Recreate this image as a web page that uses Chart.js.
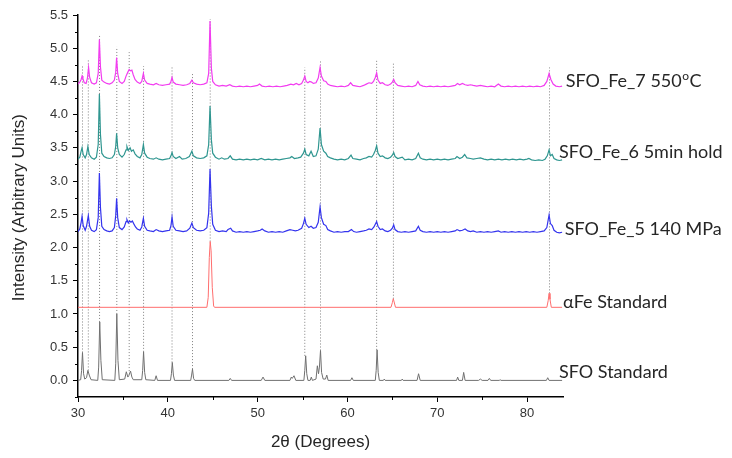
<!DOCTYPE html>
<html>
<head>
<meta charset="utf-8">
<script src="https://cdn.jsdelivr.net/npm/chart.js@4.4.1/dist/chart.umd.min.js"></script>
<style>
  html, body { margin: 0; padding: 0; background: #fff; }
  #wrap { width: 732px; height: 458px; }
</style>
</head>
<body>
<div id="wrap"><canvas id="c" width="732" height="458"></canvas></div>
<script>
// XRD patterns, [2θ, intensity] with each trace offset vertically.
const sfoFe7 = [
[30.0,4.46],[30.2,4.49],[30.35,4.53],[30.45,4.58],[30.55,4.54],[30.7,4.48],[30.9,4.47],[31.05,4.55],[31.18,4.71],[31.3,4.56],[31.5,4.48],[31.8,4.46],[32.05,4.48],[32.25,4.62],[32.38,5.13],[32.5,4.72],[32.65,4.52],[32.9,4.49],[33.2,4.47],[33.5,4.46],[33.8,4.48],[34.05,4.52],[34.2,4.64],[34.3,4.86],[34.42,4.62],[34.6,4.50],[34.9,4.47],[35.15,4.50],[35.35,4.58],[35.55,4.64],[35.7,4.68],[35.85,4.66],[36.0,4.67],[36.15,4.60],[36.35,4.53],[36.6,4.49],[36.9,4.47],[37.1,4.50],[37.28,4.62],[37.42,4.52],[37.7,4.47],[38.0,4.46],[38.4,4.45],[38.7,4.47],[39.0,4.45],[39.4,4.44],[39.8,4.45],[40.2,4.46],[40.35,4.50],[40.47,4.56],[40.6,4.49],[40.9,4.46],[41.3,4.45],[41.7,4.44],[42.1,4.45],[42.45,4.47],[42.68,4.52],[42.85,4.48],[43.2,4.46],[43.6,4.45],[44.0,4.46],[44.35,4.48],[44.55,4.62],[44.7,5.41],[44.85,4.70],[45.0,4.50],[45.3,4.45],[45.7,4.43],[46.1,4.44],[46.5,4.43],[46.9,4.45],[47.2,4.43],[47.6,4.42],[48.0,4.43],[48.4,4.42],[48.8,4.43],[49.2,4.42],[49.6,4.43],[50.0,4.44],[50.2,4.46],[50.5,4.43],[50.9,4.42],[51.3,4.43],[51.7,4.42],[52.1,4.43],[52.5,4.42],[52.9,4.43],[53.3,4.44],[53.7,4.46],[54.0,4.45],[54.3,4.47],[54.6,4.45],[54.9,4.47],[55.1,4.52],[55.25,4.58],[55.4,4.50],[55.6,4.48],[55.8,4.50],[56.0,4.49],[56.2,4.47],[56.5,4.48],[56.75,4.55],[56.95,4.71],[57.1,4.58],[57.35,4.51],[57.6,4.50],[57.8,4.46],[58.1,4.44],[58.5,4.43],[58.9,4.42],[59.3,4.43],[59.7,4.42],[60.1,4.44],[60.35,4.48],[60.6,4.44],[61.0,4.43],[61.4,4.42],[61.8,4.44],[62.1,4.46],[62.4,4.48],[62.7,4.47],[62.9,4.50],[63.1,4.56],[63.25,4.63],[63.4,4.52],[63.65,4.47],[63.9,4.48],[64.2,4.45],[64.5,4.44],[64.8,4.46],[65.0,4.49],[65.15,4.53],[65.3,4.48],[65.6,4.44],[66.0,4.43],[66.4,4.42],[66.8,4.43],[67.2,4.42],[67.6,4.44],[67.85,4.50],[68.05,4.45],[68.4,4.43],[68.8,4.42],[69.2,4.43],[69.6,4.42],[70.0,4.43],[70.4,4.42],[70.8,4.43],[71.2,4.42],[71.6,4.43],[72.0,4.44],[72.25,4.47],[72.5,4.45],[72.8,4.47],[73.1,4.45],[73.4,4.44],[73.7,4.45],[74.0,4.44],[74.4,4.43],[74.8,4.44],[75.2,4.43],[75.6,4.42],[76.0,4.43],[76.4,4.42],[76.8,4.46],[77.1,4.43],[77.5,4.42],[77.9,4.43],[78.3,4.42],[78.7,4.43],[79.1,4.42],[79.5,4.43],[79.9,4.42],[80.3,4.43],[80.7,4.42],[81.1,4.43],[81.5,4.42],[81.9,4.44],[82.2,4.50],[82.45,4.62],[82.65,4.53],[82.9,4.46],[83.2,4.43],[83.6,4.42],[83.9,4.43]
];

const sfoFe6 = [
[30.0,3.33],[30.2,3.36],[30.35,3.45],[30.45,3.50],[30.58,3.40],[30.8,3.35],[30.95,3.40],[31.1,3.52],[31.25,3.40],[31.5,3.35],[31.8,3.33],[32.05,3.36],[32.25,3.55],[32.38,4.31],[32.5,3.70],[32.65,3.42],[32.9,3.37],[33.2,3.35],[33.5,3.34],[33.8,3.35],[34.05,3.40],[34.2,3.52],[34.3,3.72],[34.42,3.50],[34.6,3.40],[34.9,3.36],[35.15,3.40],[35.35,3.47],[35.45,3.52],[35.6,3.46],[35.8,3.50],[35.95,3.45],[36.15,3.47],[36.35,3.41],[36.6,3.37],[36.9,3.35],[37.1,3.40],[37.28,3.55],[37.42,3.42],[37.7,3.36],[38.0,3.34],[38.4,3.33],[38.7,3.35],[39.0,3.33],[39.4,3.32],[39.8,3.33],[40.2,3.34],[40.35,3.38],[40.47,3.43],[40.6,3.37],[40.9,3.34],[41.3,3.37],[41.6,3.33],[42.0,3.34],[42.4,3.37],[42.68,3.45],[42.85,3.38],[43.2,3.35],[43.6,3.34],[44.0,3.35],[44.35,3.38],[44.55,3.55],[44.7,4.13],[44.85,3.62],[45.0,3.42],[45.3,3.36],[45.7,3.33],[46.0,3.35],[46.3,3.33],[46.7,3.34],[46.95,3.38],[47.2,3.33],[47.6,3.32],[48.0,3.33],[48.4,3.32],[48.8,3.33],[49.2,3.32],[49.6,3.33],[50.0,3.32],[50.4,3.34],[50.8,3.32],[51.2,3.33],[51.6,3.32],[52.0,3.33],[52.4,3.32],[52.8,3.33],[53.2,3.34],[53.6,3.35],[53.8,3.37],[54.1,3.34],[54.5,3.35],[54.8,3.36],[55.1,3.42],[55.25,3.48],[55.4,3.40],[55.7,3.38],[55.95,3.45],[56.2,3.37],[56.5,3.38],[56.75,3.48],[56.95,3.80],[57.1,3.55],[57.35,3.45],[57.6,3.42],[57.8,3.37],[58.1,3.35],[58.5,3.33],[58.9,3.32],[59.3,3.33],[59.7,3.32],[60.1,3.34],[60.4,3.39],[60.6,3.34],[61.0,3.33],[61.4,3.32],[61.8,3.34],[62.1,3.35],[62.4,3.37],[62.7,3.36],[62.9,3.40],[63.1,3.46],[63.25,3.53],[63.4,3.42],[63.65,3.37],[63.9,3.38],[64.2,3.35],[64.5,3.34],[64.8,3.36],[65.0,3.39],[65.15,3.43],[65.3,3.37],[65.6,3.34],[66.1,3.36],[66.4,3.32],[66.8,3.33],[67.2,3.32],[67.6,3.34],[67.9,3.42],[68.1,3.35],[68.4,3.33],[68.8,3.32],[69.2,3.33],[69.6,3.32],[70.0,3.33],[70.4,3.32],[70.8,3.33],[71.2,3.32],[71.6,3.33],[72.0,3.34],[72.2,3.37],[72.5,3.34],[72.8,3.36],[73.05,3.40],[73.3,3.35],[73.7,3.34],[74.0,3.33],[74.4,3.34],[74.8,3.35],[75.2,3.33],[75.6,3.32],[76.0,3.33],[76.4,3.32],[76.8,3.33],[77.2,3.32],[77.6,3.33],[78.0,3.32],[78.4,3.33],[78.8,3.32],[79.2,3.33],[79.6,3.32],[80.0,3.33],[80.2,3.34],[80.5,3.32],[80.9,3.31],[81.3,3.32],[81.7,3.31],[82.0,3.33],[82.25,3.38],[82.45,3.47],[82.6,3.38],[82.8,3.40],[83.0,3.34],[83.3,3.32],[83.6,3.31],[83.9,3.32]
];

const sfoFe5 = [
[30.0,2.24],[30.2,2.28],[30.35,2.38],[30.45,2.47],[30.58,2.33],[30.8,2.26],[30.95,2.32],[31.15,2.48],[31.3,2.32],[31.5,2.26],[31.8,2.24],[32.05,2.27],[32.25,2.45],[32.38,3.12],[32.5,2.60],[32.65,2.32],[32.9,2.27],[33.2,2.25],[33.5,2.24],[33.8,2.25],[34.05,2.30],[34.2,2.48],[34.3,2.74],[34.42,2.45],[34.6,2.30],[34.9,2.27],[35.15,2.31],[35.35,2.39],[35.45,2.42],[35.6,2.37],[35.75,2.40],[35.9,2.38],[36.05,2.40],[36.2,2.36],[36.4,2.31],[36.6,2.28],[36.9,2.26],[37.1,2.31],[37.28,2.44],[37.42,2.32],[37.7,2.26],[38.0,2.25],[38.4,2.24],[38.7,2.27],[39.0,2.25],[39.4,2.24],[39.8,2.25],[40.2,2.26],[40.35,2.33],[40.47,2.46],[40.6,2.32],[40.9,2.26],[41.3,2.25],[41.7,2.24],[42.1,2.25],[42.45,2.29],[42.68,2.37],[42.85,2.30],[43.2,2.26],[43.6,2.25],[44.0,2.26],[44.35,2.30],[44.55,2.52],[44.7,3.18],[44.85,2.62],[45.0,2.35],[45.3,2.26],[45.7,2.24],[46.1,2.25],[46.5,2.24],[46.7,2.27],[47.0,2.29],[47.2,2.25],[47.6,2.23],[48.0,2.24],[48.4,2.23],[48.8,2.24],[49.2,2.23],[49.6,2.24],[50.0,2.25],[50.3,2.26],[50.5,2.28],[50.8,2.25],[51.2,2.23],[51.6,2.24],[52.0,2.23],[52.4,2.24],[52.8,2.23],[53.2,2.25],[53.6,2.27],[53.9,2.26],[54.2,2.25],[54.5,2.26],[54.9,2.29],[55.1,2.36],[55.25,2.44],[55.4,2.35],[55.7,2.30],[55.95,2.32],[56.2,2.29],[56.5,2.30],[56.75,2.38],[56.95,2.61],[57.1,2.45],[57.35,2.35],[57.6,2.33],[57.8,2.27],[58.1,2.25],[58.5,2.23],[58.9,2.24],[59.3,2.23],[59.7,2.24],[60.1,2.24],[60.45,2.27],[60.7,2.24],[61.0,2.23],[61.4,2.24],[61.8,2.25],[62.1,2.26],[62.4,2.28],[62.7,2.27],[62.95,2.31],[63.1,2.35],[63.25,2.39],[63.4,2.32],[63.65,2.27],[63.9,2.28],[64.2,2.25],[64.5,2.24],[64.8,2.26],[65.0,2.29],[65.15,2.34],[65.3,2.27],[65.6,2.24],[66.0,2.23],[66.4,2.24],[66.8,2.23],[67.2,2.24],[67.6,2.25],[67.9,2.32],[68.1,2.26],[68.4,2.24],[68.8,2.23],[69.2,2.24],[69.6,2.23],[70.0,2.24],[70.4,2.23],[70.8,2.24],[71.2,2.23],[71.6,2.24],[72.0,2.25],[72.2,2.27],[72.5,2.25],[72.8,2.26],[73.1,2.28],[73.4,2.25],[73.7,2.24],[74.0,2.25],[74.4,2.23],[74.8,2.24],[75.2,2.23],[75.6,2.24],[76.0,2.23],[76.4,2.24],[76.8,2.25],[77.1,2.23],[77.5,2.24],[77.9,2.23],[78.3,2.24],[78.7,2.23],[79.1,2.24],[79.5,2.23],[79.9,2.24],[80.3,2.23],[80.7,2.24],[81.1,2.23],[81.5,2.24],[81.9,2.25],[82.2,2.30],[82.45,2.49],[82.6,2.36],[82.8,2.33],[83.0,2.26],[83.3,2.23],[83.6,2.22],[83.9,2.23]
];

const alphaFeStd = [
[30.0,1.10],[44.35,1.10],[44.5,1.25],[44.62,1.85],[44.72,2.09],[44.82,1.95],[44.95,1.40],[45.1,1.12],[45.2,1.10],[64.85,1.10],[65.0,1.17],[65.1,1.23],[65.2,1.18],[65.35,1.10],[82.2,1.10],[82.35,1.20],[82.45,1.31],[82.55,1.22],[82.7,1.10],[83.9,1.10]
];

const sfoStd = [
[30.0,0.0],[30.3,0.01],[30.4,0.15],[30.5,0.42],[30.62,0.10],[30.75,0.02],[30.95,0.04],[31.1,0.15],[31.25,0.08],[31.45,0.01],[32.2,0.0],[32.3,0.2],[32.42,0.88],[32.55,0.30],[32.7,0.01],[34.1,0.0],[34.2,0.25],[34.32,1.0],[34.45,0.30],[34.6,0.01],[35.2,0.02],[35.38,0.13],[35.55,0.05],[35.65,0.07],[35.85,0.14],[36.0,0.05],[36.15,0.01],[37.1,0.01],[37.2,0.15],[37.3,0.43],[37.42,0.12],[37.55,0.01],[38.55,0.0],[38.7,0.07],[38.85,0.0],[40.3,0.0],[40.4,0.10],[40.5,0.27],[40.62,0.08],[40.75,0.0],[42.55,0.0],[42.65,0.08],[42.75,0.17],[42.87,0.03],[43.0,0.0],[46.8,0.0],[46.95,0.03],[47.1,0.0],[50.4,0.0],[50.6,0.05],[50.8,0.0],[53.6,0.0],[53.75,0.05],[53.85,0.03],[54.05,0.07],[54.25,0.0],[55.15,0.0],[55.25,0.15],[55.35,0.37],[55.47,0.10],[55.6,0.0],[55.85,0.0],[55.98,0.05],[56.1,0.0],[56.5,0.02],[56.65,0.22],[56.78,0.10],[56.88,0.20],[57.0,0.45],[57.12,0.12],[57.3,0.02],[57.55,0.02],[57.7,0.08],[57.85,0.0],[60.35,0.0],[60.5,0.04],[60.65,0.0],[63.1,0.0],[63.2,0.15],[63.3,0.46],[63.42,0.12],[63.55,0.0],[64.0,0.0],[64.1,0.02],[64.2,0.0],[66.0,0.0],[66.1,0.02],[66.2,0.0],[67.75,0.0],[67.92,0.10],[68.1,0.0],[72.15,0.0],[72.27,0.05],[72.4,0.0],[72.8,0.0],[72.94,0.12],[73.1,0.0],[74.6,0.0],[74.8,0.02],[75.0,0.0],[75.65,0.0],[75.8,0.03],[75.95,0.0],[76.9,0.0],[77.0,0.01],[77.1,0.0],[82.15,0.0],[82.3,0.04],[82.45,0.0],[83.9,0.0]
];

// Reflection guide lines: position, lower end, upper end
const guideX    = [30.5, 31.15, 32.4, 34.32, 35.7, 37.3, 40.47, 42.75, 44.72, 55.25, 57.0, 63.25, 65.12, 82.5];
const guideLow  = [0.42, 0.15, 0.88, 1.00, 0.14, 0.43, 0.27, 0.17, 2.09, 0.37, 0.45, 0.46, 1.23, 1.31];
const guideHigh = [4.73, 4.82, 5.19, 5.02, 4.94, 4.73, 4.73, 4.64, 5.44, 4.71, 4.83, 4.83, 4.79, 4.71];

// Trace names, where each name starts (2θ) and the intensity it sits at
const seriesNames = ['SFO_Fe_7 550', 'SFO_Fe_6 5min hold', 'SFO_Fe_5 140 MPa', '\u03b1Fe Standard', 'SFO Standard'];
const seriesLabelX = [84.3, 83.55, 84.2, 84.0, 83.55];
const seriesLabelY = [4.50, 3.43, 2.28, 1.18, 0.12];
const seriesColors = ['#f23cf0', '#2f9690', '#3434ee', '#ff6e6e', '#707070'];

const xTickValues = [30, 40, 50, 60, 70, 80];
const yTickValues = [0, 0.5, 1, 1.5, 2, 2.5, 3, 3.5, 4, 4.5, 5, 5.5];
const xMinorValues = [35, 45, 55, 65, 75];
const yMinorValues = [-0.25, 0.25, 0.75, 1.25, 1.75, 2.25, 2.75, 3.25, 3.75, 4.25, 4.75, 5.25];

const toPts = arr => arr.map(p => ({ x: p[0], y: p[1] }));

const guidePts = [];
guideX.forEach((x, i) => {
  guidePts.push({ x: x, y: guideLow[i] }, { x: x, y: guideHigh[i] }, { x: x, y: null });
});

const traces = [sfoFe7, sfoFe6, sfoFe5, alphaFeStd, sfoStd];
const datasets = traces.map((t, i) => ({
  data: toPts(t),
  borderColor: seriesColors[i],
  borderWidth: i < 3 ? 1.2 : 1,
  pointRadius: 0,
  tension: 0,
  order: 1
}));
datasets.push({
  data: guidePts,
  borderColor: '#808080',
  borderWidth: 1,
  borderDash: [1, 2],
  pointRadius: 0,
  spanGaps: false,
  order: 10
});

const decor = {
  id: 'decor',
  afterDraw(chart) {
    const { ctx, scales: { x, y }, chartArea: a } = chart;
    ctx.save();
    // minor ticks
    ctx.strokeStyle = '#000';
    ctx.lineWidth = 1;
    ctx.beginPath();
    xMinorValues.forEach(v => {
      const px = Math.round(x.getPixelForValue(v)) + 0.5;
      ctx.moveTo(px, a.bottom); ctx.lineTo(px, a.bottom + 3);
    });
    yMinorValues.forEach(v => {
      const py = Math.round(y.getPixelForValue(v)) + 0.5;
      ctx.moveTo(a.left, py); ctx.lineTo(a.left - 3, py);
    });
    ctx.stroke();

    // axis titles
    ctx.fillStyle = '#262626';
    ctx.font = '17px "Liberation Sans", Arial, sans-serif';
    ctx.textAlign = 'center';
    ctx.textBaseline = 'middle';
    ctx.fillText('2\u03b8 (Degrees)', x.getPixelForValue(57), 442);
    ctx.save();
    ctx.translate(19, y.getPixelForValue(2.6));
    ctx.rotate(-Math.PI / 2);
    ctx.fillText('Intensity (Arbitrary Units)', 0, 0);
    ctx.restore();

    // trace names at the right end
    ctx.textAlign = 'left';
    ctx.textBaseline = 'middle';
    const fontMain = '18px Lato, "Open Sans", sans-serif';
    seriesNames.forEach((name, i) => {
      const lx = x.getPixelForValue(seriesLabelX[i]);
      const py = y.getPixelForValue(seriesLabelY[i]);
      ctx.font = fontMain;
      ctx.fillStyle = '#262626';
      ctx.fillText(name, lx, py);
      if (i === 0) {
        let w = ctx.measureText(name).width;
        ctx.font = '12px Lato, "Open Sans", sans-serif';
        ctx.fillText('o', lx + w + 0.5, py - 5);
        w += ctx.measureText('o').width + 1;
        ctx.font = fontMain;
        ctx.fillText('C', lx + w, py);
      }
    });
    ctx.restore();
  }
};

new Chart(document.getElementById('c'), {
  type: 'line',
  data: { datasets },
  options: {
    responsive: false,
    animation: false,
    devicePixelRatio: 1,
    layout: { padding: { top: 15, right: 169, left: 0, bottom: 0 } },
    plugins: { legend: { display: false }, tooltip: { enabled: false } },
    scales: {
      x: {
        type: 'linear',
        min: 30, max: 84,
        afterBuildTicks: s => { s.ticks = xTickValues.map(v => ({ value: v })); },
        afterFit: s => { s.height = 61; },
        ticks: {
          autoSkip: false, maxRotation: 0, padding: 4,
          color: '#333', font: { family: '"Liberation Sans", Arial, sans-serif', size: 13 },
          callback: v => String(v)
        },
        grid: { display: true, drawOnChartArea: false, drawTicks: true, tickLength: 5, color: '#000' },
        border: { display: true, color: '#000', width: 1.5 }
      },
      y: {
        type: 'linear',
        min: -0.25, max: 5.5,
        afterBuildTicks: s => { s.ticks = yTickValues.map(v => ({ value: v })); },
        afterFit: s => { s.width = 78; },
        ticks: {
          autoSkip: false, padding: 5,
          color: '#333', font: { family: '"Liberation Sans", Arial, sans-serif', size: 13 },
          callback: v => Number(v).toFixed(1)
        },
        grid: { display: true, drawOnChartArea: false, drawTicks: true, tickLength: 5, color: '#000' },
        border: { display: true, color: '#000', width: 1.5 }
      }
    }
  },
  plugins: [decor]
});
</script>
</body>
</html>
